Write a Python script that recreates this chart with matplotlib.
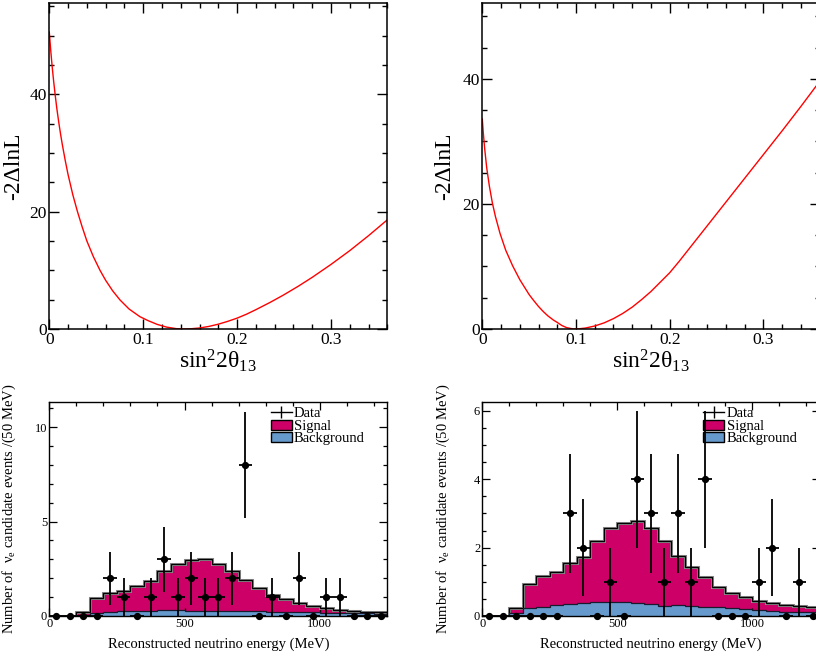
import matplotlib
matplotlib.use("Agg")
import matplotlib.pyplot as plt
from matplotlib.lines import Line2D
from matplotlib.patches import Patch
from matplotlib.ticker import MultipleLocator, FixedLocator
import numpy as np

plt.rcParams['font.family'] = ['Liberation Serif', 'DejaVu Serif']
plt.rcParams['mathtext.fontset'] = 'custom'
plt.rcParams['mathtext.rm'] = 'Liberation Serif'
plt.rcParams['mathtext.it'] = 'Liberation Serif:italic'

# ---- likelihood scans: -2 Delta lnL versus sin^2(2 theta13) ----
scan_a_x = [0.0, 0.0015, 0.003, 0.0045, 0.0061, 0.008, 0.010, 0.012, 0.014, 0.017,
            0.020, 0.025, 0.030, 0.035, 0.040, 0.047, 0.054, 0.060, 0.0675, 0.0753,
            0.085, 0.0965, 0.105, 0.115, 0.125, 0.135, 0.143, 0.150, 0.160, 0.170,
            0.180, 0.190, 0.200, 0.210, 0.220, 0.235, 0.249, 0.265, 0.280, 0.300,
            0.320, 0.340, 0.360]
scan_a_y = [50.6, 47.5, 44.8, 42.4, 40.1, 37.6, 35.3, 33.2, 31.3, 28.7,
            26.3, 22.9, 20.0, 17.4, 15.0, 12.3, 10.0, 8.3, 6.5, 4.95,
            3.4, 2.1, 1.44, 0.78, 0.32, 0.064, 0.0, 0.03, 0.17, 0.44,
            0.82, 1.30, 1.85, 2.52, 3.29, 4.52, 5.75, 7.27, 8.8, 11.0,
            13.35, 15.9, 18.6]

scan_b_x = [0.0, 0.001, 0.0025, 0.0047, 0.0075, 0.0107, 0.014, 0.0189, 0.025, 0.0324,
            0.040, 0.045, 0.050, 0.0545, 0.060, 0.065, 0.070, 0.0758, 0.080, 0.085,
            0.090, 0.097, 0.104, 0.110, 0.120, 0.130, 0.140, 0.150, 0.160, 0.170,
            0.180, 0.190, 0.200, 0.210, 0.220, 0.230, 0.240, 0.250, 0.260, 0.270,
            0.280, 0.290, 0.300, 0.320, 0.340, 0.360]
scan_b_y = [33.6, 31.5, 28.9, 25.8, 22.9, 20.2, 18.0, 15.3, 12.6, 10.1,
            7.9, 6.7, 5.5, 4.62, 3.6, 2.8, 2.1, 1.44, 1.05, 0.55,
            0.22, 0.0, 0.05, 0.15, 0.48, 0.98, 1.66, 2.5, 3.5, 4.7,
            6.0, 7.5, 9.0, 10.8, 12.7, 14.6, 16.5, 18.4, 20.3, 22.2,
            24.1, 26.0, 27.9, 31.7, 35.6, 39.6]

# ---- reconstructed energy spectra (50 MeV bins, 0-1250 MeV) ----
energy_edges = [0, 50, 100, 150, 200, 250, 300, 350, 400, 450, 500, 550, 600, 650,
                700, 750, 800, 850, 900, 950, 1000, 1050, 1100, 1150, 1200, 1250]
energy_centers = [25, 75, 125, 175, 225, 275, 325, 375, 425, 475, 525, 575, 625,
                  675, 725, 775, 825, 875, 925, 975, 1025, 1075, 1125, 1175, 1225]

bkg_a = [0, 0, 0.05, 0.17, 0.20, 0.24, 0.27, 0.28, 0.30, 0.30, 0.29, 0.28, 0.27,
         0.25, 0.24, 0.25, 0.23, 0.22, 0.20, 0.19, 0.18, 0.16, 0.15, 0.14, 0.13]
sig_a = [0, 0, 0.16, 0.80, 1.00, 1.10, 1.34, 1.59, 2.10, 2.46, 2.68, 2.72, 2.49,
         2.12, 1.67, 1.23, 0.90, 0.66, 0.47, 0.34, 0.23, 0.14, 0.10, 0.07, 0.06]
data_a = [0, 0, 0, 0, 2, 1, 0, 1, 3, 1, 2, 1, 1, 2, 8, 0, 1, 0, 2, 0, 1, 1, 0, 0, 0]
err_a = [0, 0, 0, 0, 1.41, 1, 0, 1, 1.73, 1, 1.41, 1, 1, 1.41, 2.83, 0, 1, 0,
         1.41, 0, 1, 1, 0, 0, 0]

bkg_b = [0, 0, 0.08, 0.24, 0.27, 0.31, 0.35, 0.39, 0.41, 0.42, 0.41, 0.39, 0.35,
         0.30, 0.33, 0.30, 0.27, 0.25, 0.23, 0.20, 0.18, 0.15, 0.13, 0.12, 0.11]
sig_b = [0, 0, 0.16, 0.70, 0.89, 0.97, 1.19, 1.33, 1.79, 2.15, 2.32, 2.38, 2.22,
         1.90, 1.44, 1.14, 0.86, 0.61, 0.45, 0.37, 0.27, 0.22, 0.19, 0.17, 0.16]
data_b = [0, 0, 0, 0, 0, 0, 3, 2, 0, 1, 0, 4, 3, 1, 3, 1, 4, 0, 0, 0, 1, 2, 0, 1, 0]
err_b = [0, 0, 0, 0, 0, 0, 1.73, 1.41, 0, 1, 0, 2, 1.73, 1, 1.73, 1, 2, 0, 0, 0,
         1, 1.41, 0, 1, 0]

SIGNAL_COLOR = '#CC0066'
BKG_COLOR = '#6699CC'

W, H = 816, 659
fig = plt.figure(figsize=(W / 100, H / 100), dpi=100)


def px_axes(x0, y0, x1, y1):
    return fig.add_axes([x0 / W, 1 - y1 / H, (x1 - x0) / W, (y1 - y0) / H])


ax_tl = px_axes(49.3, 2.7, 387.3, 329)
ax_tr = px_axes(482.3, 2.7, 819.6, 329)
ax_bl = px_axes(49.3, 401.7, 387.3, 616)
ax_br = px_axes(482.3, 401.7, 819.6, 616)


def style_scan(ax, x, y, ymax, label_x):
    ax.plot(x, y, color='red', lw=1.0)
    ax.set_xlim(0, 0.36)
    ax.set_ylim(0, ymax)
    ax.xaxis.set_major_locator(FixedLocator([0, 0.1, 0.2, 0.3]))
    ax.set_xticklabels(['0', '0.1', '0.2', '0.3'])
    ax.xaxis.set_minor_locator(MultipleLocator(0.02))
    ax.yaxis.set_major_locator(MultipleLocator(20))
    ax.yaxis.set_minor_locator(MultipleLocator(5))
    ax.tick_params(which='both', direction='in', top=True, right=True,
                   width=1.0, labelsize=12.5)
    ax.tick_params(which='major', length=7.5, pad=2)
    ax.tick_params(which='minor', length=3.8)
    for s in ax.spines.values():
        s.set_linewidth(1.1)
    ax.set_ylabel('-2\u0394lnL', fontsize=17)
    ax.set_xlabel(r'$\mathrm{sin^{2}2\theta_{13}}$', fontsize=17, labelpad=0)
    ax.yaxis.set_label_coords(label_x, 0.5)


style_scan(ax_tl, scan_a_x, scan_a_y, 55.6, -0.075)
style_scan(ax_tr, scan_b_x, scan_b_y, 52.2, -0.082)


def style_spectrum(ax, bkg, sig, data, err, ymax, major, minor, label_x):
    bkg = np.asarray(bkg)
    total = bkg + np.asarray(sig)
    ax.stairs(total, energy_edges, fill=True, color=SIGNAL_COLOR, lw=0, zorder=1)
    ax.stairs(total, energy_edges, color='#888888', lw=2.2, zorder=2)
    ax.stairs(total, energy_edges, color='black', lw=0.9, zorder=3)
    ax.stairs(bkg, energy_edges, fill=True, color=BKG_COLOR, lw=0, zorder=4)
    ax.stairs(bkg, energy_edges, color='#1a1a2e', lw=0.9, zorder=5)
    ax.errorbar(energy_centers, data, yerr=err, xerr=25, fmt='o', color='black',
                ms=4.2, elinewidth=1.3, capsize=0, zorder=6, clip_on=False)
    ax.set_xlim(0, 1250)
    ax.set_ylim(0, ymax)
    ax.xaxis.set_major_locator(MultipleLocator(500))
    ax.xaxis.set_minor_locator(MultipleLocator(100))
    ax.yaxis.set_major_locator(MultipleLocator(major))
    ax.yaxis.set_minor_locator(MultipleLocator(minor))
    ax.tick_params(which='both', direction='in', top=True, right=True,
                   width=0.9, labelsize=9)
    ax.tick_params(which='major', length=6, pad=1.5)
    ax.tick_params(which='minor', length=3)
    for s in ax.spines.values():
        s.set_linewidth(1.0)
        s.set_zorder(7)
    ax.set_xlabel('Reconstructed neutrino energy (MeV)', fontsize=10.5, labelpad=5)
    ax.set_ylabel(r'Number of  $\mathrm{\nu_e}$ candidate events /(50 MeV)', fontsize=10.5)
    ax.yaxis.set_label_coords(label_x, 0.5)
    handles = [
        Line2D([], [], color='black', lw=1.0, marker='|', markersize=8,
               markeredgewidth=1.0),
        Patch(facecolor=SIGNAL_COLOR, edgecolor='black', lw=1.0),
        Patch(facecolor=BKG_COLOR, edgecolor='black', lw=1.0),
    ]
    ax.legend(handles, ['Data', 'Signal', 'Background'], loc='upper left',
              bbox_to_anchor=(0.655, 0.975), frameon=False, fontsize=10.5,
              handlelength=1.45, handleheight=0.7, handletextpad=0.15,
              labelspacing=-0.05, borderpad=0.0, borderaxespad=0.0)


style_spectrum(ax_bl, bkg_a, sig_a, data_a, err_a, 11.35, 5, 1, -0.093)
style_spectrum(ax_br, bkg_b, sig_b, data_b, err_b, 6.27, 2, 0.5, -0.09)

fig.savefig('out.png', dpi=100)
